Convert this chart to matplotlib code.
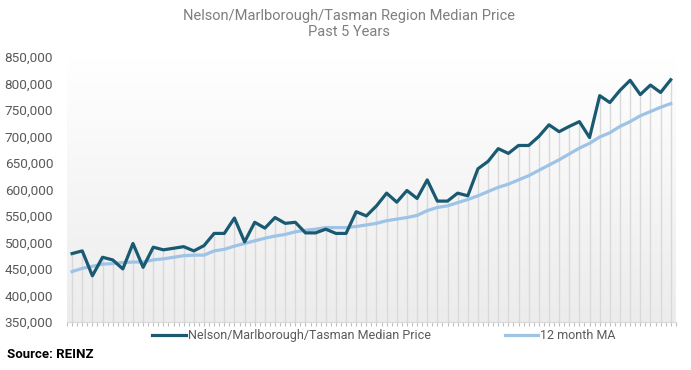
import numpy as np
import matplotlib.pyplot as plt

# monthly median price, last 5 years (60 months)
median_price = [479000, 484000, 437000, 472000, 467000, 450000, 498000, 453000, 491000, 486000,
                489000, 492000, 484000, 494000, 517000, 517000, 546000, 501000, 538000, 527000,
                547000, 536000, 538000, 518000, 518000, 525000, 517000, 517000, 558000, 550000,
                569000, 593000, 576000, 598000, 583000, 618000, 578000, 578000, 593000, 588000,
                639000, 653000, 677000, 668000, 683000, 683000, 700000, 722000, 709000, 719000,
                728000, 698000, 777000, 764000, 787000, 806000, 779000, 797000, 783000, 807000]
moving_avg = [445000, 451000, 455000, 459000, 460000, 462000, 463000, 463000, 467000, 469000,
              472000, 475000, 476000, 476000, 484000, 487000, 493000, 498000, 503000, 508000,
              512000, 515000, 520000, 523000, 525000, 528000, 528000, 528000, 530000, 533000,
              536000, 541000, 544000, 547000, 551000, 560000, 566000, 569000, 575000, 581000,
              588000, 596000, 604000, 610000, 618000, 626000, 636000, 646000, 656000, 667000,
              678000, 687000, 699000, 707000, 719000, 728000, 739000, 747000, 755000, 762000]
y_ticks = [350000, 400000, 450000, 500000, 550000, 600000, 650000, 700000, 750000, 800000, 850000]

dark = "#195a72"
light = "#9dc3e6"
x = np.arange(len(median_price))

fig = plt.figure(figsize=(6.91, 3.70), dpi=100)
ax = fig.add_axes([0.097, 0.130, 0.881, 0.716])

# soft grey gradient behind the plot
grad = np.linspace(0, 1, 256).reshape(-1, 1)
ax.imshow(grad, extent=[-0.5, 59.5, 350000, 850000], aspect="auto",
          cmap=plt.matplotlib.colors.LinearSegmentedColormap.from_list("g", ["#ececec", "#ffffff"]),
          origin="lower", zorder=0)

ax.vlines(x, 350000, median_price, color="#d9d9d9", lw=1, zorder=1)
ax.plot(x, median_price, color=dark, lw=2.3, zorder=3, label="Nelson/Marlborough/Tasman Median Price")
ax.plot(x, moving_avg, color=light, lw=2.3, zorder=2, label="12 month MA")

ax.set_xlim(-0.5, 59.5)
ax.set_ylim(350000, 850000)
ax.set_yticks(y_ticks)
ax.set_yticklabels([f"{v:,}" for v in y_ticks])
ax.set_xticks(np.arange(-0.5, 60, 0.5))
ax.set_xticklabels([])
ax.tick_params(axis="x", length=3, color="#bfbfbf", width=0.8)
ax.tick_params(axis="y", length=0, pad=10, labelsize=9.7, labelcolor="#595959")
for lab in ax.get_yticklabels():
    lab.set_family("Roboto")
for s in ["top", "right", "left"]:
    ax.spines[s].set_visible(False)
ax.spines["bottom"].set_color("#d9d9d9")

fig.text(0.505, 0.935, "Nelson/Marlborough/Tasman Region Median Price\nPast 5 Years",
         ha="center", va="center", fontsize=10.5, color="#7f7f7f", family="Roboto", linespacing=1.2)

leg = fig.legend(loc="center", bbox_to_anchor=(0.556, 0.092), ncol=2, frameon=False,
                 handlelength=2.65, handletextpad=0.2, columnspacing=5.9,
                 prop={"family": "Roboto", "size": 9})
for t in leg.get_texts():
    t.set_color("#595959")

fig.text(0.01, 0.043, "Source: REINZ", fontsize=9.5, fontweight="bold", family="Roboto",
         va="center", color="black")

fig.savefig("out.png", dpi=100)
